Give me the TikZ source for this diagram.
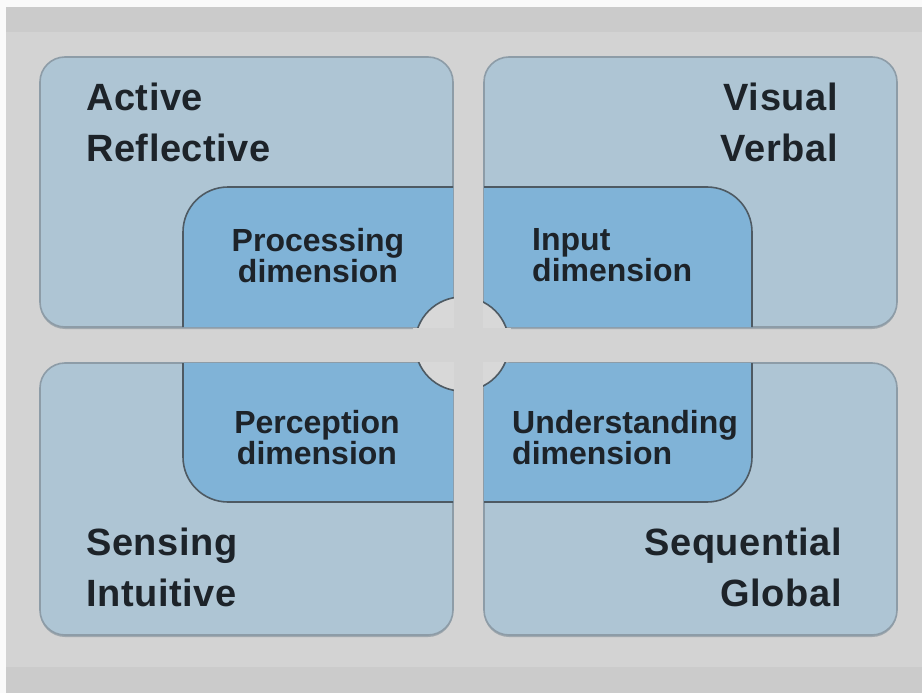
\documentclass[tikz,border=0pt]{standalone}
\usepackage{fontspec}
\setmainfont{Liberation Sans}
\newfontfamily\boxfont[LetterSpace=1.5]{Liberation Sans}
\definecolor{pagewhite}{HTML}{FAFAFA}
\definecolor{stripgray}{HTML}{CBCBCB}
\definecolor{bggray}{HTML}{D3D3D3}
\definecolor{discgray}{HTML}{D8D8D8}
\definecolor{boxblue}{HTML}{AEC5D4}
\definecolor{boxedge}{HTML}{8D9CA7}
\definecolor{boxshade}{HTML}{A0A8AE}
\definecolor{innerblue}{HTML}{80B3D7}
\definecolor{inneredge}{HTML}{4E5A63}
\definecolor{labelink}{HTML}{1D2329}

\begin{document}
\begin{tikzpicture}[x=1pt,y=-1pt,
        outerbox/.style={fill=boxblue,draw=boxedge,line width=1.6pt,rounded corners=25pt},
        innerbox/.style={fill=innerblue,draw=inneredge,line width=1.6pt,rounded corners=45pt},
        biglabel/.style={inner sep=0pt,text=labelink,font=\boxfont\bfseries\fontsize{38}{51}\selectfont},
        smalllabel/.style={inner sep=0pt,text=labelink,font=\bfseries\fontsize{32}{29.5}\selectfont}]
        \useasboundingbox (0,0) rectangle (922,693);

        % background and strips
        \fill[pagewhite] (0,0) rectangle (922,693);
        \fill[stripgray] (6,7) rectangle (922,693);
        \fill[bggray] (6,32) rectangle (922,667);

        % four quadrant boxes with the inner dimension panel
        \foreach \xa/\ya/\xb/\yb in {40/57/453/327, 484/57/897/327, 40/363/453/635, 484/363/897/635} {
          \fill[boxshade,rounded corners=25pt] (\xa,\ya+2) rectangle (\xb,\yb+2);
          \draw[outerbox] (\xa,\ya) rectangle (\xb,\yb);
          \begin{scope}
            \clip[rounded corners=25pt] (\xa,\ya) rectangle (\xb,\yb);
            \draw[innerbox] (183,187) rectangle (752,502);
          \end{scope}
        }

        % centre disc, cut by the cross
        \draw[fill=discgray,draw=inneredge,line width=1.6pt] (462,344) circle (47);
        \fill[bggray] (454,295) rectangle (483,393);
        \fill[bggray] (413,328) rectangle (511,362);

        % quadrant labels
        \node[biglabel,anchor=north west,align=left] (active) at (86,83) {Active\\Reflective};
        \node[biglabel,anchor=north east,align=right] (visual) at (838,83) {Visual\\Verbal};
        \node[biglabel,anchor=north west,align=left] (sensing) at (86,528) {Sensing\\Intuitive};
        \node[biglabel,anchor=north east,align=right] (sequential) at (842,528) {Sequential\\Global};

        % dimension labels
        \node[smalllabel,anchor=north,align=center] (processing) at (318,228) {Processing\\dimension};
        \node[smalllabel,anchor=north west,align=left] (input) at (532,228) {Input\\dimension};
        \node[smalllabel,anchor=north,align=center] (perception) at (317,410) {Perception\\dimension};
        \node[smalllabel,anchor=north west,align=left] (understanding) at (512,410) {Understanding\\dimension};
\end{tikzpicture}
\end{document}
